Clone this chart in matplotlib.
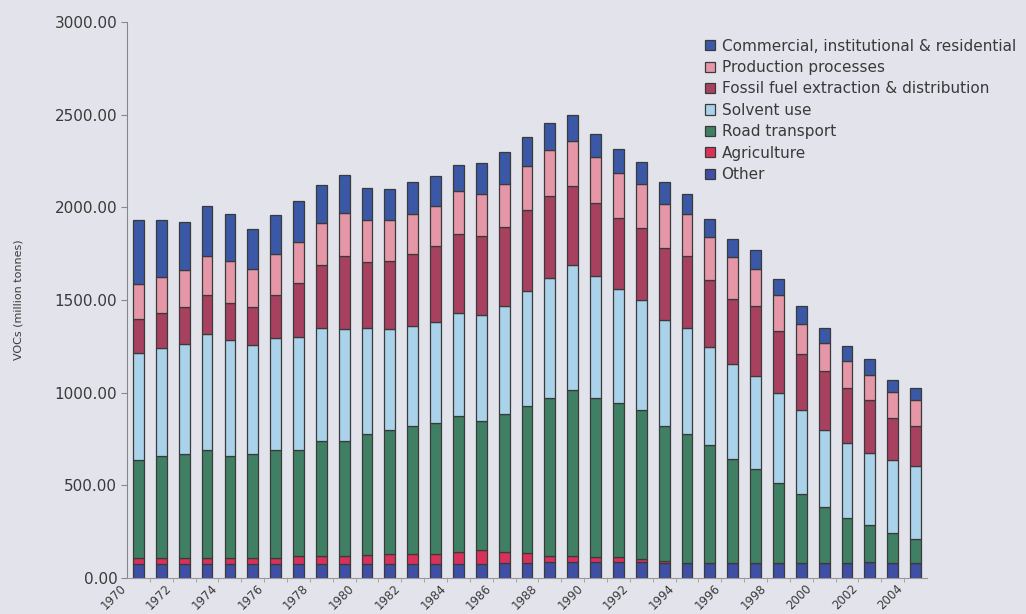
import matplotlib
matplotlib.use("Agg")
import matplotlib.pyplot as plt
import matplotlib.transforms as mtransforms
import numpy as np

plt.rcParams['font.family'] = ['DejaVu Sans']

years = list(range(1970, 2005))

# VOC emissions by source, bottom of the stack first
other = [77, 77, 77, 77, 77, 77, 77, 78, 78, 78,
         78, 78, 78, 75, 78, 78, 80, 82, 88, 88,
         88, 86, 85, 82, 82, 82, 82, 82, 82, 82,
         80, 80, 85, 80, 80]
agriculture = [30, 30, 30, 30, 30, 30, 30, 42, 42, 42,
               48, 50, 50, 55, 65, 72, 58, 52, 32, 30,
               28, 25, 18, 12, 0, 0, 0, 0, 0, 0,
               0, 0, 0, 0, 0]
road = [531, 554, 563, 582, 549, 563, 585, 572, 617, 617,
        652, 672, 695, 708, 729, 697, 749, 792, 851, 898,
        855, 833, 802, 726, 696, 634, 562, 504, 430, 369,
        302, 245, 199, 164, 132]
solvent = [578, 582, 591, 630, 627, 586, 603, 608, 612, 609,
           573, 546, 537, 544, 560, 571, 579, 621, 650, 675,
           659, 618, 594, 574, 573, 530, 513, 502, 486, 454,
           418, 405, 390, 391, 392]
fossil = [184, 189, 201, 207, 203, 206, 231, 292, 342, 390,
          355, 365, 391, 408, 423, 426, 428, 438, 439, 423,
          394, 383, 390, 387, 387, 361, 351, 380, 335, 306,
          317, 297, 288, 230, 214]
production = [185, 192, 198, 212, 223, 204, 221, 221, 225, 234,
              225, 220, 216, 218, 232, 227, 235, 237, 252, 245,
              248, 243, 240, 236, 229, 233, 224, 202, 193, 161,
              151, 142, 135, 138, 140]
commercial = [345, 306, 261, 268, 254, 216, 211, 220, 204, 204,
              174, 170, 170, 160, 141, 166, 172, 158, 144, 139,
              123, 126, 116, 120, 108, 100, 100, 99, 90, 96,
              81, 83, 83, 67, 67]

series = [
    ("Other", other, "#3f4fa6"),
    ("Agriculture", agriculture, "#d8325a"),
    ("Road transport", road, "#3f7f64"),
    ("Solvent use", solvent, "#aad2ea"),
    ("Fossil fuel extraction & distribution", fossil, "#a8405f"),
    ("Production processes", production, "#e597a8"),
    ("Commercial, institutional & residential", commercial, "#3b58a6"),
]

bg = "#e3e3eb"
txt = "#3a3a3a"
fig = plt.figure(figsize=(10.26, 6.14), dpi=100, facecolor=bg)
ax = fig.add_axes([0.1238, 0.0586, 0.7797, 0.9054])
ax.set_facecolor(bg)

x = np.arange(len(years))
bottom = np.zeros(len(years))
handles = {}
for name, vals, col in series:
    vals = np.array(vals, dtype=float)
    b = ax.bar(x, vals, width=0.47, bottom=bottom, color=col,
               edgecolor="#3a3a3a", linewidth=0.9, label=name)
    handles[name] = b
    bottom += vals

ax.set_xlim(-0.5, len(years) - 0.5)
ax.set_ylim(0, 3000)
ax.set_yticks(np.arange(0, 3001, 500))
ax.set_yticklabels([f"{v:.2f}" for v in np.arange(0, 3001, 500)])
ax.tick_params(axis="y", length=4, color="#888888", labelsize=11,
               labelcolor=txt, pad=3)

# year labels every other bar, separators between bars
ax.set_xticks(x[::2])
ax.set_xticklabels([str(y) for y in years[::2]], rotation=45, ha="right",
                   fontsize=8.5, color=txt)
ax.set_xticks(x[:-1] + 0.5, minor=True)
ax.tick_params(axis="x", which="major", length=0, pad=3)
ax.tick_params(axis="x", which="minor", length=3, color="#999999")
shift = mtransforms.ScaledTranslation(-10 / 100, 0, fig.dpi_scale_trans)
for lbl in ax.get_xticklabels():
    lbl.set_transform(lbl.get_transform() + shift)

for side in ("top", "right"):
    ax.spines[side].set_visible(False)
ax.spines["left"].set_color("#888888")
ax.spines["bottom"].set_color("#999999")

ax.set_ylabel("VOCs (million tonnes)", fontsize=8, color=txt)
ax.yaxis.set_label_coords(-0.13, 0.5)

order = [s[0] for s in series][::-1]
leg = ax.legend([handles[n] for n in order], order, loc="upper left",
                bbox_to_anchor=(0.705, 0.995), frameon=False, fontsize=11,
                handlelength=0.65, handleheight=0.65, handletextpad=0.45,
                labelspacing=0.42, labelcolor=txt)

fig.savefig("out.png", dpi=100, facecolor=bg)
